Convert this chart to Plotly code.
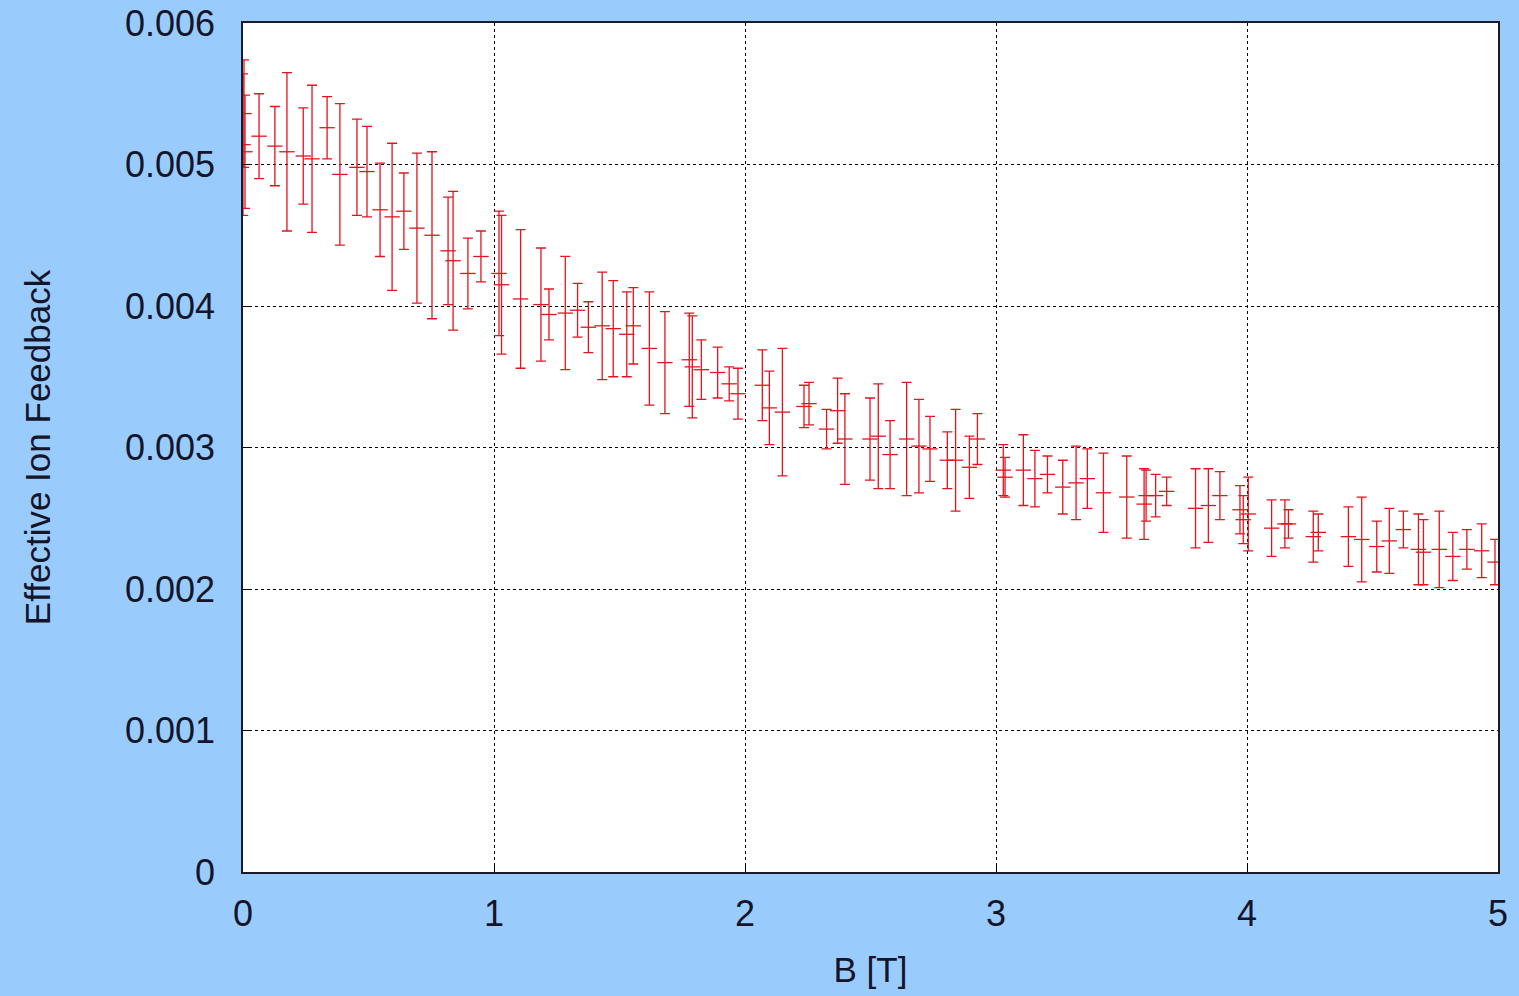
import plotly.graph_objects as go

# B field [T]
b_field = [0.000, 0.004, 0.008, 0.064, 0.127, 0.175, 0.240, 0.275, 0.335, 0.386,
           0.454, 0.494, 0.546, 0.594, 0.641, 0.693, 0.753, 0.817, 0.837, 0.896,
           0.948, 1.020, 1.030, 1.106, 1.187, 1.219, 1.284, 1.333, 1.376, 1.431,
           1.475, 1.529, 1.555, 1.619, 1.681, 1.778, 1.790, 1.826, 1.891, 1.937,
           1.972, 2.069, 2.097, 2.149, 2.235, 2.255, 2.325, 2.369, 2.398, 2.498,
           2.531, 2.578, 2.644, 2.693, 2.737, 2.806, 2.839, 2.894, 2.926, 3.029,
           3.036, 3.109, 3.155, 3.205, 3.266, 3.319, 3.364, 3.428, 3.521, 3.590,
           3.598, 3.636, 3.680, 3.795, 3.846, 3.892, 3.972, 3.985, 4.005, 4.098,
           4.151, 4.165, 4.264, 4.284, 4.404, 4.457, 4.517, 4.567, 4.623, 4.683,
           4.703, 4.766, 4.820, 4.876, 4.935, 4.988]

# Effective ion feedback (x 1e-3)
ibf_milli = [5.14, 5.36, 5.09, 5.20, 5.13, 5.09, 5.06, 5.04, 5.26, 4.93,
             4.98, 4.95, 4.68, 4.63, 4.67, 4.55, 4.50, 4.39, 4.32, 4.23,
             4.35, 4.23, 4.15, 4.05, 4.01, 3.94, 3.95, 3.97, 3.85, 3.86,
             3.84, 3.80, 3.86, 3.70, 3.60, 3.62, 3.57, 3.55, 3.53, 3.45,
             3.38, 3.44, 3.28, 3.25, 3.29, 3.31, 3.13, 3.26, 3.06, 3.06,
             3.08, 2.95, 3.06, 3.01, 2.99, 2.91, 2.91, 2.86, 3.06, 2.84,
             2.79, 2.84, 2.78, 2.81, 2.72, 2.75, 2.78, 2.68, 2.65, 2.60,
             2.66, 2.66, 2.69, 2.57, 2.59, 2.66, 2.56, 2.49, 2.53, 2.43,
             2.46, 2.46, 2.37, 2.40, 2.37, 2.35, 2.30, 2.34, 2.42, 2.28,
             2.26, 2.28, 2.23, 2.28, 2.27, 2.19]

# Error (x 1e-3)
err_milli = [0.50, 0.38, 0.40, 0.30, 0.28, 0.56, 0.34, 0.52, 0.22, 0.50,
             0.34, 0.32, 0.33, 0.52, 0.27, 0.53, 0.59, 0.38, 0.49, 0.25,
             0.18, 0.44, 0.49, 0.49, 0.40, 0.18, 0.40, 0.19, 0.18, 0.38,
             0.34, 0.30, 0.27, 0.40, 0.36, 0.33, 0.36, 0.21, 0.18, 0.12,
             0.18, 0.25, 0.26, 0.45, 0.15, 0.15, 0.14, 0.23, 0.32, 0.29,
             0.37, 0.24, 0.40, 0.33, 0.23, 0.20, 0.36, 0.22, 0.18, 0.18,
             0.14, 0.25, 0.20, 0.13, 0.19, 0.26, 0.21, 0.28, 0.29, 0.25,
             0.18, 0.15, 0.10, 0.28, 0.26, 0.17, 0.17, 0.17, 0.26, 0.20,
             0.17, 0.10, 0.18, 0.13, 0.21, 0.30, 0.18, 0.23, 0.13, 0.25,
             0.23, 0.27, 0.17, 0.14, 0.19, 0.16]

y_tick_vals = [0, 0.001, 0.002, 0.003, 0.004, 0.005, 0.006]
y_tick_text = ["0", "0.001", "0.002", "0.003", "0.004", "0.005", "0.006"]
x_tick_vals = [0, 1, 2, 3, 4, 5]
x_tick_text = ["0", "1", "2", "3", "4", "5"]

ibf = [v * 1e-3 for v in ibf_milli]
err = [v * 1e-3 for v in err_milli]

RED = "#e3141e"
TXT = "#14142a"
FONT = "Liberation Sans, Arial, sans-serif"

fig = go.Figure()
fig.add_trace(go.Scatter(
    x=b_field, y=ibf, mode="markers",
    marker=dict(symbol="line-ew-open", size=11, color=RED, line=dict(color=RED, width=1.3)),
    error_y=dict(type="data", array=err, visible=True, color=RED, thickness=1.3, width=5),
    showlegend=False,
))

axis_common = dict(
    showline=True, linecolor="#1a1a2a", linewidth=1.5, mirror=True,
    showgrid=True, gridcolor="#000000", gridwidth=1, griddash="dot",
    zeroline=False, ticks="inside", ticklen=6, tickcolor="#000000",
    tickfont=dict(family=FONT, size=36, color=TXT),
    automargin=False,
)

fig.update_layout(
    width=1519, height=996,
    paper_bgcolor="#99ccfc", plot_bgcolor="#ffffff",
    margin=dict(l=243, r=21, t=23, b=124),
    xaxis=dict(range=[0, 5], tickvals=x_tick_vals, ticktext=x_tick_text,
               ticklabelstandoff=9,
               title=dict(text="B [T]", font=dict(family=FONT, size=35, color=TXT), standoff=25),
               **axis_common),
    yaxis=dict(range=[0, 0.006], tickvals=y_tick_vals, ticktext=y_tick_text,
               ticklabelstandoff=19,
               title=dict(text="Effective Ion Feedback", font=dict(family=FONT, size=35, color=TXT), standoff=64),
               **axis_common),
)

fig.write_html("out.html", config={"displayModeBar": False},
               post_script="document.body.style.margin='0px';document.body.style.overflow='hidden';")
